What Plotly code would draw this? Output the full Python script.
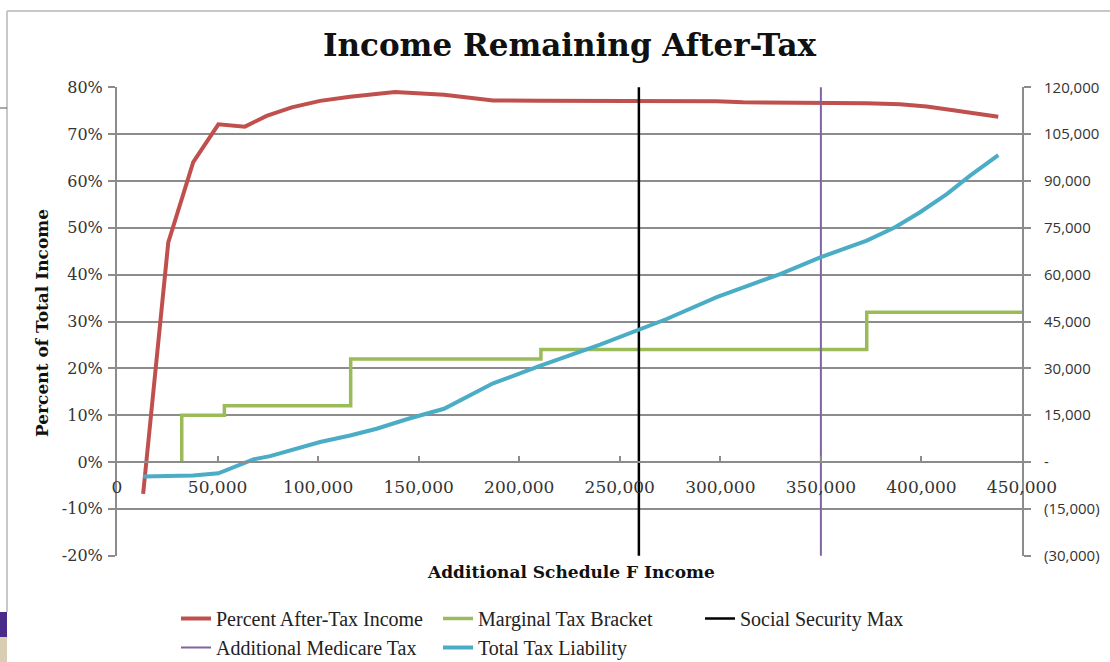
import plotly.graph_objects as go

# ---------------- data ----------------
pct_x = [13000, 25500, 37900, 50400, 63600, 74400, 86900, 101000, 115900, 138200,
         162600, 187000, 210000, 240000, 259700, 270000, 298200, 311300, 350000,
         372800, 389300, 402600, 415800, 427500, 438200]
pct_y = [-0.068, 0.469, 0.640, 0.721, 0.716, 0.739, 0.757, 0.771, 0.780, 0.790,
         0.784, 0.772, 0.771, 0.771, 0.771, 0.769, 0.770, 0.768, 0.768,
         0.766, 0.764, 0.759, 0.751, 0.743, 0.737]

bracket_x = [32200, 32200, 53400, 116200, 210800, 372800, 450000]
bracket_y = [0.0, 0.10, 0.12, 0.22, 0.24, 0.32, 0.32]

tax_x = [13000, 25000, 37900, 50400, 62800, 67800, 76100, 89400, 101000, 115900,
         129100, 144900, 162600, 187000, 210300, 240200, 259700, 273300, 298200,
         329700, 350000, 372800, 386900, 399300, 412600, 424200, 438200]
tax_y = [-4600, -4500, -4300, -3600, -540, 830, 1900, 4250, 6400, 8500,
         10650, 13850, 17050, 25200, 30800, 37600, 42400, 45800, 52800,
         60200, 65600, 70900, 75200, 80000, 85800, 91700, 98300]

ss_max = 259500
medicare = 350000

x_ticks = [0, 50000, 100000, 150000, 200000, 250000, 300000, 350000, 400000, 450000]
x_labels = ["0", "50,000", "100,000", "150,000", "200,000", "250,000",
            "300,000", "350,000", "400,000", "450,000"]
y_ticks = [-0.2, -0.1, 0.0, 0.1, 0.2, 0.3, 0.4, 0.5, 0.6, 0.7, 0.8]
y_labels = ["-20%", "-10%", "0%", "10%", "20%", "30%", "40%", "50%", "60%", "70%", "80%"]
y2_ticks = [-30000, -15000, 0, 15000, 30000, 45000, 60000, 75000, 90000, 105000, 120000]
y2_labels = ["(30,000)", "(15,000)", "-", "15,000", "30,000", "45,000", "60,000",
             "75,000", "90,000", "105,000", "120,000"]

y_min, y_max = -0.2, 0.8
y2_min, y2_max = -30000, 120000

# ---------------- figure ----------------
W, H = 1110, 662
L, R, T, B = 117, 88, 87, 106
PW, PH = W - L - R, H - T - B


def px(xp):
    return (xp - L) / PW


def py(yp):
    return (H - B - yp) / PH


fig = go.Figure()
fig.add_trace(go.Scatter(x=pct_x, y=pct_y, mode="lines", name="Percent After-Tax Income",
                         line=dict(color="#C0504D", width=4)))
fig.add_trace(go.Scatter(x=bracket_x, y=bracket_y, mode="lines", name="Marginal Tax Bracket",
                         line=dict(color="#9BBB59", width=3.5, shape="hv")))
fig.add_trace(go.Scatter(x=[ss_max, ss_max], y=[y_min, y_max], mode="lines",
                         name="Social Security Max", line=dict(color="#000000", width=2.5)))
fig.add_trace(go.Scatter(x=[medicare, medicare], y=[y_min, y_max], mode="lines",
                         name="Additional Medicare Tax", line=dict(color="#8064A2", width=2)))
fig.add_trace(go.Scatter(x=tax_x, y=tax_y, mode="lines", name="Total Tax Liability",
                         yaxis="y2", line=dict(color="#4BACC6", width=4)))

pad = 0.0006
grid = "#8c8c8c"
serif = "DejaVu Serif"

fig.update_layout(
    width=W, height=H,
    margin=dict(l=L, r=R, t=T, b=B, autoexpand=False),
    paper_bgcolor="white", plot_bgcolor="white",
    title=dict(text="<b>Income Remaining After-Tax</b>", x=0.5, xref="paper",
               y=1 - 45 / H, yref="container", xanchor="center", yanchor="middle",
               font=dict(family=serif, size=31, color="#111")),
    xaxis=dict(range=[0, 450000], tickvals=x_ticks, ticktext=x_labels,
               showgrid=False, zeroline=False, anchor="free",
               position=(0 - y_min) / (y_max - y_min),
               showline=True, linecolor=grid, linewidth=2,
               ticks="inside", ticklen=5, tickcolor=grid, tickwidth=1.5,
               ticklabelstandoff=9,
               tickfont=dict(family=serif, size=17, color="#333")),
    yaxis=dict(range=[y_min - pad, y_max + pad], tickvals=y_ticks, ticktext=y_labels,
               showgrid=True, gridcolor=grid, gridwidth=2, zeroline=False,
               showline=True, linecolor=grid, linewidth=2,
               ticks="outside", ticklen=7, tickcolor=grid, tickwidth=1.5,
               ticklabelstandoff=2,
               tickfont=dict(family=serif, size=16, color="#333")),
    yaxis2=dict(range=[y2_min - pad * 150000, y2_max + pad * 150000], overlaying="y",
                side="right", tickvals=y2_ticks, ticktext=y2_labels,
                showgrid=False, zeroline=False,
                showline=True, linecolor=grid, linewidth=2,
                ticks="outside", ticklen=7, tickcolor=grid, tickwidth=1.5,
                ticklabelstandoff=10,
                tickfont=dict(family="Open Sans", size=15, color="#333")),
    legend=dict(orientation="h", x=px(176), y=py(599), xanchor="left", yanchor="top",
                entrywidth=217, entrywidthmode="pixels", traceorder="normal",
                font=dict(family="Liberation Serif", size=20, color="#222"),
                bgcolor="rgba(0,0,0,0)", tracegroupgap=0),
    showlegend=True,
    annotations=[
        dict(text="<b>Additional Schedule F Income</b>", x=px(571), y=py(572),
             xref="paper", yref="paper", showarrow=False, xanchor="center", yanchor="middle",
             font=dict(family=serif, size=17, color="#111")),
        dict(text="<b>Percent of Total Income</b>", x=px(42), y=py(323),
             xref="paper", yref="paper", showarrow=False, xanchor="center", yanchor="middle",
             textangle=-90, font=dict(family=serif, size=17, color="#111")),
    ],
    shapes=[
        dict(type="line", xref="paper", yref="paper", x0=px(7), x1=px(7), y0=py(11), y1=py(612),
             line=dict(color="#c8c8c8", width=2)),
        dict(type="line", xref="paper", yref="paper", x0=px(7), x1=px(1110), y0=py(11), y1=py(11),
             line=dict(color="#c8c8c8", width=2)),
        dict(type="line", xref="paper", yref="paper", x0=px(0), x1=px(7), y0=py(108), y1=py(108),
             line=dict(color="#555", width=1)),
        dict(type="rect", xref="paper", yref="paper", x0=px(0), x1=px(7), y0=py(637), y1=py(612),
             line=dict(width=0), fillcolor="#4a2a8a"),
        dict(type="rect", xref="paper", yref="paper", x0=px(0), x1=px(7), y0=py(662), y1=py(637),
             line=dict(width=0), fillcolor="#d9ceb2"),
    ],
)

fig.write_html("out.html", config={"displayModeBar": False},
               post_script="document.body.style.margin='0';document.body.style.overflow='hidden';")
